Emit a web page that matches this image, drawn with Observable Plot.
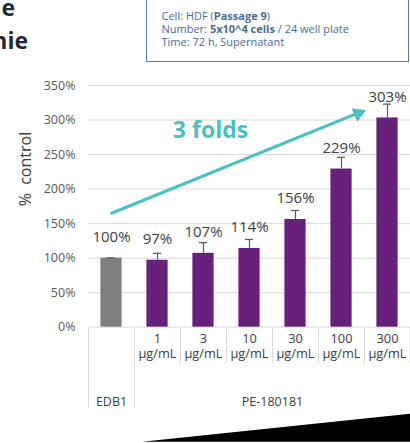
<!DOCTYPE html>
<html>
<head>
<meta charset="utf-8">
<script src="https://cdn.jsdelivr.net/npm/d3@7"></script>
<script src="https://cdn.jsdelivr.net/npm/@observablehq/plot@0.6"></script>
<style>
  html, body { margin: 0; padding: 0; background: #fff; }
  #wrap { position: relative; width: 410px; height: 443px; overflow: hidden; font-family: "Open Sans", sans-serif; }
  #header { position: relative; height: 64px; }
  .ttl { position: absolute; font-weight: 700; font-size: 23px; line-height: 23px; color: #1e2b3c; white-space: nowrap; text-align: right; }
  #box { position: absolute; left: 146px; top: -5px; width: 263px; height: 67px; box-sizing: border-box;
         border: 1.5px solid #5a7fa7; padding: 13px 0 0 14.5px; font-size: 11px; line-height: 13px; color: #4a6d93; }
  #box b { font-weight: 700; }
  #chart svg { display: block; }
</style>
</head>
<body>
<div id="wrap">
  <div id="header">
    <div class="ttl" style="right: 395px; top: -4px;">e</div>
    <div class="ttl" style="right: 382px; top: 29px;">nie</div>
    <div id="box">
      <div>Cell: HDF (<b>Passage 9</b>)</div>
      <div>Number: <b>5x10^4 cells</b> / 24 well plate</div>
      <div>Time: 72 h, Supernatant</div>
    </div>
  </div>
  <div id="chart"></div>
</div>
<script>
// ---- data ----
const categories = ["EDB1", "1 µg/mL", "3 µg/mL", "10 µg/mL", "30 µg/mL", "100 µg/mL", "300 µg/mL"];
const tickLabels = ["", "1\nµg/mL", "3\nµg/mL", "10\nµg/mL", "30\nµg/mL", "100\nµg/mL", "300\nµg/mL"];
const values = [100, 97, 107, 114, 156, 229, 303];
const errors = [0.5, 10, 15.5, 13, 13, 17, 20];
const barColors = ["#7f7f7f", "#68217a", "#68217a", "#68217a", "#68217a", "#68217a", "#68217a"];
const yTicks = [0, 50, 100, 150, 200, 250, 300, 350];
const controlLabel = [{x: "EDB1", text: "EDB1"}];
const groupLabel = [{x: "10 µg/mL", text: "PE-180181"}];
const tableLines = [
  {x: "EDB1", end: -118},
  {x: "1 µg/mL", end: -118},
  {x: "3 µg/mL", end: -52.7},
  {x: "10 µg/mL", end: -52.7},
  {x: "30 µg/mL", end: -52.7},
  {x: "100 µg/mL", end: -52.7},
  {x: "300 µg/mL", end: -52.7}
];
const trendArrow = [{x1: "EDB1", y1: 165, x2: "300 µg/mL", y2: 327.6}];
const arrowHead = [{x: "300 µg/mL", y: 309.6}];
const foldLabel = [{x: "3 µg/mL", y: 285, text: "3 folds"}];

const data = categories.map((c, i) => ({
  cat: c, value: values[i], err: errors[i], color: barColors[i], tick: tickLabels[i]
}));

const teal = "#4cbfc4";

const plot = Plot.plot({
  width: 410,
  height: 379,
  marginLeft: 88,
  marginRight: 0,
  marginTop: 21,
  marginBottom: 116.3,
  style: {fontFamily: "Open Sans, sans-serif", background: "#fff"},
  x: {type: "band", domain: categories, padding: 0, axis: null},
  y: {domain: [0, 350], axis: null},
  marks: [
    Plot.gridY(yTicks, {stroke: "#d9d9d9", strokeOpacity: 1, strokeWidth: 1}),
    Plot.axisY(yTicks, {tickSize: 0, tickPadding: 13, tickFormat: d => d + "%", fontSize: 12.5, fill: "#595959", label: null}),
    Plot.barY(data, {x: "cat", y: "value", fill: "color", insetLeft: 12.4, insetRight: 12.4}),
    Plot.ruleX(data, {x: "cat", y1: "value", y2: d => d.value + d.err, stroke: "#595959", strokeWidth: 1.2}),
    Plot.tickY(data, {x: "cat", y: d => d.value + d.err, stroke: "#595959", strokeWidth: 1.2, insetLeft: 19, insetRight: 19}),
    Plot.text(data, {x: "cat", y: "value", text: d => d.value + "%", dy: -21, fontSize: 15, fill: "#404040"}),
    Plot.ruleX(tableLines, {x: "x", y1: -1.5, y2: "end", dx: -23, stroke: "#d9d9d9", strokeWidth: 1}),
    Plot.ruleX([categories[6]], {x: d => d, y1: -1.5, y2: -52.7, dx: 22.5, stroke: "#d9d9d9", strokeWidth: 1}),
    Plot.text(data, {x: "cat", y: 0, text: "tick", lineAnchor: "top", dy: 5, lineHeight: 1.2, fontSize: 12.8, fill: "#404040"}),
    Plot.text(controlLabel, {x: "x", y: () => 0, text: "text", dy: 75, lineAnchor: "middle", fontSize: 12.5, fill: "#404040"}),
    Plot.text(groupLabel, {x: "x", y: () => 0, text: "text", dx: 23, dy: 75, lineAnchor: "middle", fontSize: 12.5, fill: "#404040"}),
    Plot.arrow(trendArrow, {x1: "x1", y1: "y1", x2: "x2", y2: "y2", insetEnd: 30, stroke: teal, strokeWidth: 3, headLength: 0}),
    Plot.dot(arrowHead, {x: "x", y: "y", dx: -29.2, symbol: "triangle", r: 5.5, rotate: 67.8, fill: teal, stroke: "none"}),
    Plot.text(foldLabel, {x: "x", y: "y", text: "text", dx: 7, fontSize: 23, fontWeight: "bold", fill: teal}),
    Plot.text(["%\u00a0 control"], {frameAnchor: "left", rotate: -90, dx: -63, fontSize: 16, fill: "#404040"})
  ]
});

document.getElementById("chart").appendChild(plot);
const svg = d3.select(plot);
const xs = plot.scale("x");
const ys = plot.scale("y");
const bw = xs.bandwidth;

// Dose triangle under the PE-180181 group
const left = xs.apply("1 µg/mL") + 8;
const right = xs.apply("300 µg/mL") + bw;
const y0 = ys.apply(0);
svg.append("polygon")
  .attr("points", `${left},${y0 + 115} ${right},${y0 + 87} ${right},${y0 + 115}`)
  .attr("fill", "#000");
</script>
</body>
</html>
